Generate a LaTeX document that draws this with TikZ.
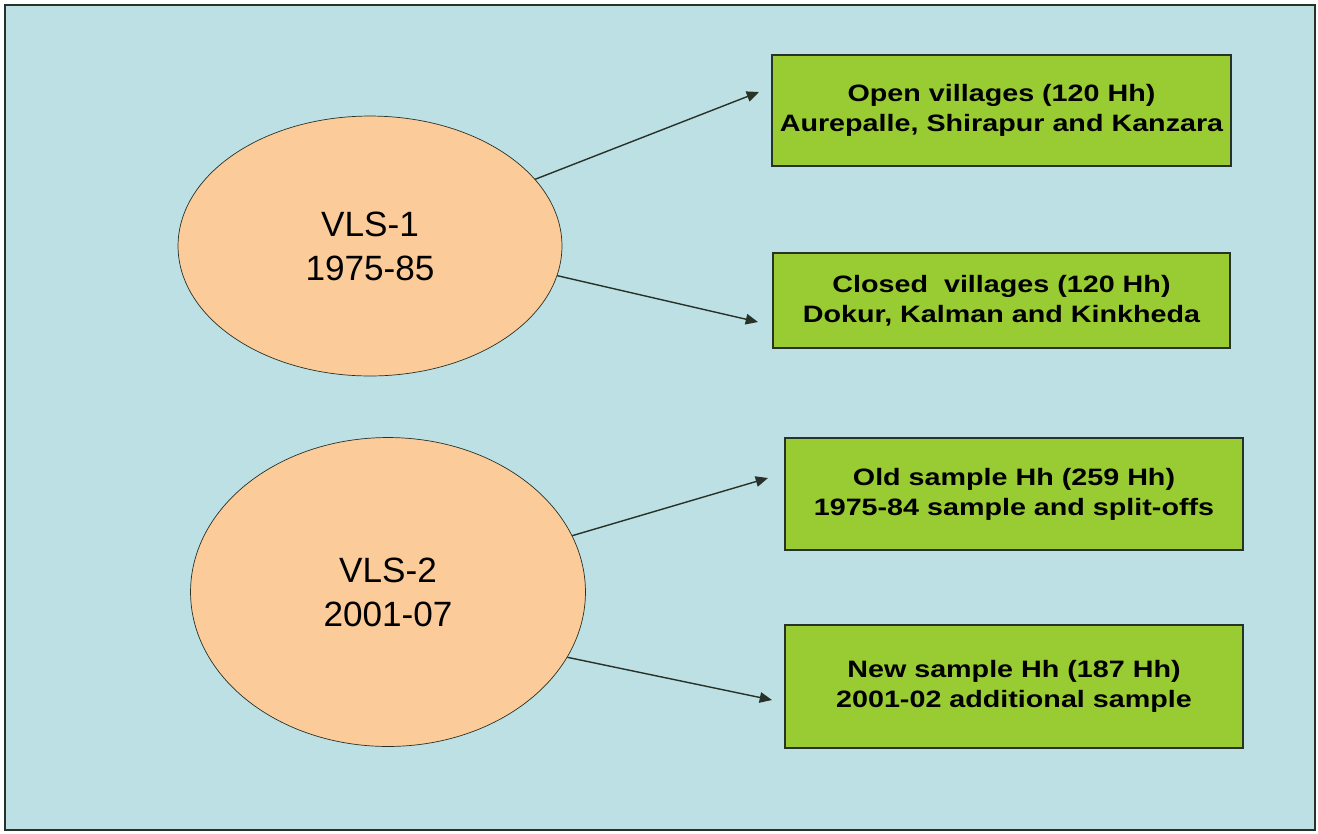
\documentclass[tikz,border=0pt]{standalone}
\usepackage{fontspec}
\setmainfont{Liberation Sans}
\newfontfamily\boxfont[FakeStretch=1.21]{Liberation Sans}
\usetikzlibrary{shapes.geometric,arrows.meta}

\definecolor{bgblue}{RGB}{188,224,228}
\definecolor{peach}{RGB}{251,204,154}
\definecolor{leaf}{RGB}{153,204,51}
\definecolor{edge}{RGB}{40,50,40}

\begin{document}
\begin{tikzpicture}[x=0.02cm, y=-0.02cm,
        survey/.style={draw=edge, fill=peach, ellipse, inner sep=0pt, align=center,
            font=\fontsize{20}{25}\selectfont},
        group/.style={draw=edge, thick, fill=leaf, rectangle, inner sep=0pt, align=center,
            font=\boxfont\bfseries\fontsize{13.5}{17}\selectfont},
        link/.style={-{Triangle[length=7pt,width=6pt]}, draw=edge, thick}]
        \useasboundingbox (0,0) rectangle (1318,833);
        \draw[fill=bgblue, draw=edge, thick] (5,5) rectangle (1315,830);

        \node[survey, minimum width=7.68cm, minimum height=5.2cm] (v1) at (370,246) {VLS-1\\1975-85};
        \node[survey, minimum width=7.9cm, minimum height=6.18cm] (v2) at (388,592) {VLS-2\\2001-07};

        \node[group, minimum width=9.18cm, minimum height=2.22cm] (o) at (1001.5,110.5) {Open villages (120 Hh)\\Aurepalle, Shirapur and Kanzara};
        \node[group, minimum width=9.14cm, minimum height=1.9cm] (c) at (1001.5,300.5) {Closed\ \ villages (120 Hh)\\Dokur, Kalman and Kinkheda};
        \node[group, minimum width=9.16cm, minimum height=2.24cm] (os) at (1014,494) {Old sample Hh (259 Hh)\\1975-84 sample and split-offs};
        \node[group, minimum width=9.16cm, minimum height=2.46cm] (ns) at (1014,686.5) {New sample Hh (187 Hh)\\2001-02 additional sample};

        \coordinate (to) at (759,92);
        \coordinate (tc) at (758,322);
        \coordinate (tos) at (768,478);
        \coordinate (tns) at (772,700);

        \draw[link] (v1.22) -- (to);
        \draw[link] (v1.-9) -- (tc);
        \draw[link] (v2.17) -- (tos);
        \draw[link] (v2.-20) -- (tns);
    \end{tikzpicture}
\end{document}
